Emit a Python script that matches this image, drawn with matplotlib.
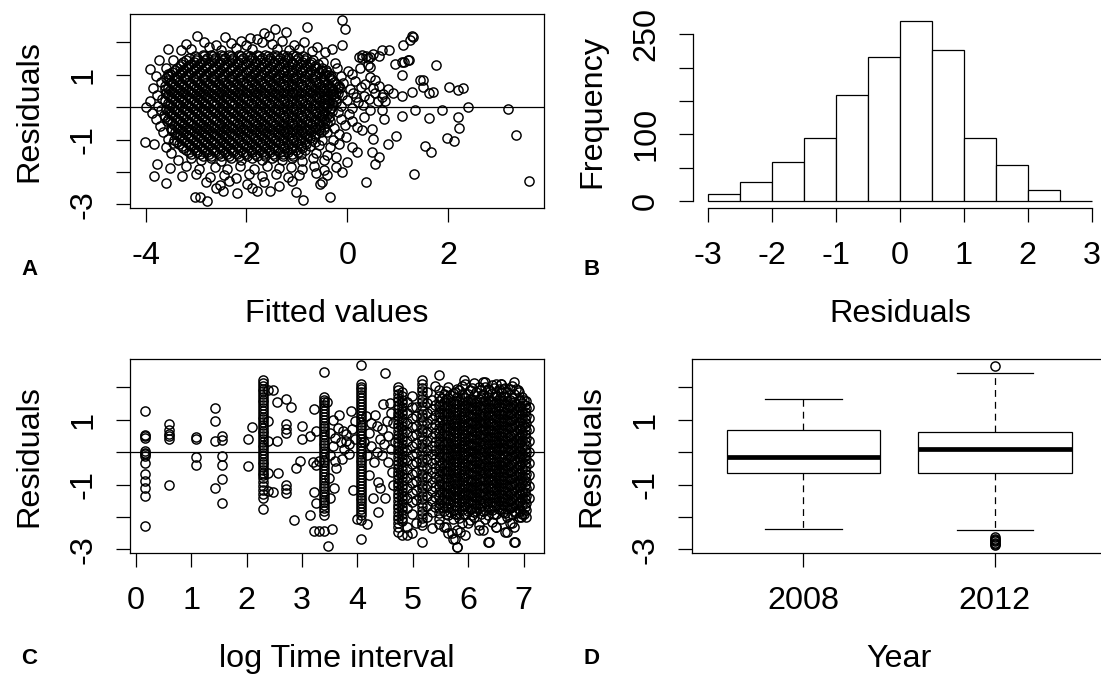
import numpy as np
import matplotlib.pyplot as plt

plt.rcParams['font.family'] = ['Liberation Sans', 'DejaVu Sans']
plt.rcParams['axes.unicode_minus'] = False

# ---------------- data ----------------
# A: residuals vs fitted values. dense core as rows (residual, [fitted ...])
a_core_rows = [
    (1.62, [-2.87, -2.71, -2.5, -2.35, -2.15, -1.99, -1.79, -1.63, -1.43, -1.27, -1.07]),
    (1.56, [-3.02, -2.84, -2.66, -2.47, -2.3, -2.11, -1.93, -1.75, -1.57, -1.39, -1.2, -1.02, -0.88]),
    (1.50, [-3.14, -2.98, -2.78, -2.62, -2.42, -2.26, -2.06, -1.9, -1.7, -1.54, -1.34, -1.18, -0.98, -0.82]),
    (1.44, [-3.2, -3.01, -2.83, -2.65, -2.46, -2.29, -2.1, -1.92, -1.74, -1.56, -1.38, -1.19, -1.01, -0.83, -0.68]),
    (1.38, [-3.25, -3.05, -2.89, -2.69, -2.53, -2.33, -2.17, -1.97, -1.81, -1.61, -1.45, -1.25, -1.09, -0.89, -0.73]),
    (1.32, [-3.29, -3.1, -2.92, -2.74, -2.55, -2.38, -2.19, -2.01, -1.83, -1.65, -1.47, -1.28, -1.1, -0.92, -0.74, -0.58]),
    (1.26, [-3.32, -3.16, -2.96, -2.8, -2.6, -2.44, -2.24, -2.08, -1.88, -1.72, -1.52, -1.36, -1.16, -1.0, -0.8, -0.64]),
    (1.20, [-3.38, -3.2, -3.01, -2.83, -2.65, -2.46, -2.29, -2.1, -1.92, -1.74, -1.56, -1.38, -1.19, -1.01, -0.83, -0.65, -0.5]),
    (1.14, [-3.41, -3.25, -3.05, -2.89, -2.69, -2.53, -2.33, -2.17, -1.97, -1.81, -1.61, -1.45, -1.25, -1.09, -0.89, -0.73, -0.53]),
    (1.08, [-3.47, -3.28, -3.1, -2.92, -2.74, -2.55, -2.38, -2.19, -2.01, -1.83, -1.65, -1.47, -1.28, -1.1, -0.92, -0.74, -0.56, -0.4]),
    (1.02, [-3.52, -3.32, -3.16, -2.96, -2.8, -2.6, -2.44, -2.24, -2.08, -1.88, -1.72, -1.52, -1.36, -1.16, -1.0, -0.8, -0.64, -0.44]),
    (0.96, [-3.55, -3.38, -3.2, -3.01, -2.83, -2.65, -2.46, -2.29, -2.1, -1.92, -1.74, -1.56, -1.38, -1.19, -1.01, -0.83, -0.65, -0.47, -0.32]),
    (0.90, [-3.59, -3.43, -3.23, -3.07, -2.87, -2.71, -2.51, -2.35, -2.15, -1.99, -1.79, -1.63, -1.43, -1.27, -1.07, -0.91, -0.71, -0.55, -0.35]),
    (0.84, [-3.56, -3.38, -3.2, -3.01, -2.83, -2.65, -2.46, -2.29, -2.1, -1.92, -1.74, -1.56, -1.38, -1.19, -1.01, -0.83, -0.65, -0.47, -0.3]),
    (0.78, [-3.5, -3.34, -3.14, -2.98, -2.78, -2.62, -2.42, -2.26, -2.06, -1.9, -1.7, -1.54, -1.34, -1.18, -0.98, -0.82, -0.62, -0.46, -0.26]),
    (0.72, [-3.47, -3.28, -3.1, -2.92, -2.74, -2.55, -2.38, -2.19, -2.01, -1.83, -1.65, -1.47, -1.28, -1.1, -0.92, -0.74, -0.56, -0.4, -0.22]),
    (0.66, [-3.61, -3.41, -3.25, -3.05, -2.89, -2.69, -2.53, -2.33, -2.17, -1.97, -1.81, -1.61, -1.45, -1.25, -1.09, -0.89, -0.73, -0.53, -0.37, -0.17]),
    (0.60, [-3.56, -3.38, -3.2, -3.01, -2.83, -2.65, -2.46, -2.29, -2.1, -1.92, -1.74, -1.56, -1.38, -1.19, -1.01, -0.83, -0.65, -0.47, -0.3, -0.14]),
    (0.54, [-3.52, -3.32, -3.16, -2.96, -2.8, -2.6, -2.44, -2.24, -2.08, -1.88, -1.72, -1.52, -1.36, -1.16, -1.0, -0.8, -0.64, -0.44, -0.28]),
    (0.48, [-3.47, -3.28, -3.1, -2.92, -2.74, -2.55, -2.38, -2.19, -2.01, -1.83, -1.65, -1.47, -1.28, -1.1, -0.92, -0.74, -0.56, -0.4, -0.22]),
    (0.42, [-3.59, -3.43, -3.23, -3.07, -2.87, -2.71, -2.51, -2.35, -2.15, -1.99, -1.79, -1.63, -1.43, -1.27, -1.07, -0.91, -0.71, -0.55, -0.35, -0.19]),
    (0.36, [-3.56, -3.38, -3.2, -3.01, -2.83, -2.65, -2.46, -2.29, -2.1, -1.92, -1.74, -1.56, -1.38, -1.19, -1.01, -0.83, -0.65, -0.47, -0.3]),
    (0.30, [-3.5, -3.34, -3.14, -2.98, -2.78, -2.62, -2.42, -2.26, -2.06, -1.9, -1.7, -1.54, -1.34, -1.18, -0.98, -0.82, -0.62, -0.46, -0.26]),
    (0.24, [-3.47, -3.28, -3.1, -2.92, -2.74, -2.55, -2.38, -2.19, -2.01, -1.83, -1.65, -1.47, -1.28, -1.1, -0.92, -0.74, -0.56, -0.4, -0.22]),
    (0.18, [-3.61, -3.41, -3.25, -3.05, -2.89, -2.69, -2.53, -2.33, -2.17, -1.97, -1.81, -1.61, -1.45, -1.25, -1.09, -0.89, -0.73, -0.53, -0.37]),
    (0.12, [-3.56, -3.38, -3.2, -3.01, -2.83, -2.65, -2.46, -2.29, -2.1, -1.92, -1.74, -1.56, -1.38, -1.19, -1.01, -0.83, -0.65, -0.47, -0.3]),
    (0.06, [-3.52, -3.32, -3.16, -2.96, -2.8, -2.6, -2.44, -2.24, -2.08, -1.88, -1.72, -1.52, -1.36, -1.16, -1.0, -0.8, -0.64, -0.44, -0.28]),
    (0.00, [-3.47, -3.28, -3.1, -2.92, -2.74, -2.55, -2.38, -2.19, -2.01, -1.83, -1.65, -1.47, -1.28, -1.1, -0.92, -0.74, -0.56, -0.4]),
    (-0.06, [-3.59, -3.43, -3.23, -3.07, -2.87, -2.71, -2.51, -2.35, -2.15, -1.99, -1.79, -1.63, -1.43, -1.27, -1.07, -0.91, -0.71, -0.55, -0.35]),
    (-0.12, [-3.56, -3.38, -3.2, -3.01, -2.83, -2.65, -2.46, -2.29, -2.1, -1.92, -1.74, -1.56, -1.38, -1.19, -1.01, -0.83, -0.65, -0.47, -0.3]),
    (-0.18, [-3.5, -3.34, -3.14, -2.98, -2.78, -2.62, -2.42, -2.26, -2.06, -1.9, -1.7, -1.54, -1.34, -1.18, -0.98, -0.82, -0.62, -0.46]),
    (-0.24, [-3.47, -3.28, -3.1, -2.92, -2.74, -2.55, -2.38, -2.19, -2.01, -1.83, -1.65, -1.47, -1.28, -1.1, -0.92, -0.74, -0.56, -0.4]),
    (-0.30, [-3.61, -3.41, -3.25, -3.05, -2.89, -2.69, -2.53, -2.33, -2.17, -1.97, -1.81, -1.61, -1.45, -1.25, -1.09, -0.89, -0.73, -0.53, -0.37]),
    (-0.36, [-3.56, -3.38, -3.2, -3.01, -2.83, -2.65, -2.46, -2.29, -2.1, -1.92, -1.74, -1.56, -1.38, -1.19, -1.01, -0.83, -0.65, -0.47]),
    (-0.42, [-3.52, -3.32, -3.16, -2.96, -2.8, -2.6, -2.44, -2.24, -2.08, -1.88, -1.72, -1.52, -1.36, -1.16, -1.0, -0.8, -0.64, -0.44]),
    (-0.48, [-3.47, -3.28, -3.1, -2.92, -2.74, -2.55, -2.38, -2.19, -2.01, -1.83, -1.65, -1.47, -1.28, -1.1, -0.92, -0.74, -0.56, -0.4]),
    (-0.54, [-3.43, -3.23, -3.07, -2.87, -2.71, -2.51, -2.35, -2.15, -1.99, -1.79, -1.63, -1.43, -1.27, -1.07, -0.91, -0.71, -0.55]),
    (-0.60, [-3.38, -3.2, -3.01, -2.83, -2.65, -2.46, -2.29, -2.1, -1.92, -1.74, -1.56, -1.38, -1.19, -1.01, -0.83, -0.65, -0.47]),
    (-0.66, [-3.5, -3.34, -3.14, -2.98, -2.78, -2.62, -2.42, -2.26, -2.06, -1.9, -1.7, -1.54, -1.34, -1.18, -0.98, -0.82, -0.62, -0.46]),
    (-0.72, [-3.47, -3.28, -3.1, -2.92, -2.74, -2.55, -2.38, -2.19, -2.01, -1.83, -1.65, -1.47, -1.28, -1.1, -0.92, -0.74, -0.56]),
    (-0.78, [-3.41, -3.25, -3.05, -2.89, -2.69, -2.53, -2.33, -2.17, -1.97, -1.81, -1.61, -1.45, -1.25, -1.09, -0.89, -0.73, -0.53]),
    (-0.84, [-3.38, -3.2, -3.01, -2.83, -2.65, -2.46, -2.29, -2.1, -1.92, -1.74, -1.56, -1.38, -1.19, -1.01, -0.83, -0.65]),
    (-0.90, [-3.32, -3.16, -2.96, -2.8, -2.6, -2.44, -2.24, -2.08, -1.88, -1.72, -1.52, -1.36, -1.16, -1.0, -0.8, -0.64]),
    (-0.96, [-3.28, -3.1, -2.92, -2.74, -2.55, -2.38, -2.19, -2.01, -1.83, -1.65, -1.47, -1.28, -1.1, -0.92, -0.74]),
    (-1.02, [-3.43, -3.23, -3.07, -2.87, -2.71, -2.51, -2.35, -2.15, -1.99, -1.79, -1.63, -1.43, -1.27, -1.07, -0.91, -0.71]),
    (-1.08, [-3.38, -3.2, -3.01, -2.83, -2.65, -2.46, -2.29, -2.1, -1.92, -1.74, -1.56, -1.38, -1.19, -1.01, -0.83, -0.65]),
    (-1.14, [-3.34, -3.14, -2.98, -2.78, -2.62, -2.42, -2.26, -2.06, -1.9, -1.7, -1.54, -1.34, -1.18, -0.98, -0.82]),
    (-1.20, [-3.28, -3.1, -2.92, -2.74, -2.55, -2.38, -2.19, -2.01, -1.83, -1.65, -1.47, -1.28, -1.1, -0.92, -0.74]),
    (-1.26, [-3.25, -3.05, -2.89, -2.69, -2.53, -2.33, -2.17, -1.97, -1.81, -1.61, -1.45, -1.25, -1.09, -0.89]),
    (-1.32, [-3.2, -3.01, -2.83, -2.65, -2.46, -2.29, -2.1, -1.92, -1.74, -1.56, -1.38, -1.19, -1.01, -0.83]),
    (-1.38, [-3.14, -2.98, -2.78, -2.62, -2.42, -2.26, -2.06, -1.9, -1.7, -1.54, -1.34, -1.18, -0.98]),
    (-1.44, [-3.1, -2.92, -2.74, -2.55, -2.38, -2.19, -2.01, -1.83, -1.65, -1.47, -1.28, -1.1, -0.92]),
    (-1.50, [-2.87, -2.71, -2.51, -2.35, -2.15, -1.99, -1.79, -1.63, -1.43, -1.27, -1.07]),
]

# A: scattered points round the core (fitted, residual)
a_edge = [
    (-2.99, 2.19), (-2.43, 2.16), (-1.94, 2.14), (-1.65, 2.27), (-1.43, 2.42), (-1.22, 2.32),
    (-0.80, 2.47), (-0.10, 2.68), (-0.05, 2.42), (-1.55, 2.2), (-2.1, 2.05), (-1.8, 2.1),
    (-3.56, 1.80), (-3.2, 1.95), (-2.85, 2.0), (-2.6, 1.9), (-2.3, 1.98), (-2.0, 1.92),
    (-1.7, 2.0), (-1.5, 1.95), (-1.3, 2.05), (-1.05, 1.9), (-0.85, 2.0), (-0.6, 1.85),
    (-0.10, 1.91), (-2.75, 1.85), (-1.9, 1.8), (-3.3, 1.75), (-3.1, 1.8), (-2.5, 1.75),
    (-2.2, 1.82), (-1.4, 1.78), (-1.15, 1.75), (-0.95, 1.8), (-0.7, 1.72), (-0.45, 1.7),
    (-0.3, 1.78),
    (-3.74, 1.44), (-3.91, 1.19), (-3.6, 1.2), (-3.8, 0.95), (-3.7, 0.78), (-3.85, 0.6),
    (-3.78, 0.38), (-3.92, 0.18), (-3.68, 0.24), (-3.99, 0.0), (-3.75, 0.04), (-3.88, -0.18),
    (-3.64, -0.24), (-3.8, -0.38), (-3.58, -0.44), (-3.72, -0.58), (-3.66, -0.78), (-4.02, -1.08),
    (-3.84, -1.13), (-3.56, -0.98), (-3.6, -1.22), (-3.5, -1.42), (-3.77, -1.75), (-3.35, -1.62),
    (-3.45, 1.45), (-3.55, 1.02), (-3.62, 0.56), (-3.7, -0.1), (-3.5, -0.64), (-3.45, -1.1),
    (-0.48, 1.4), (-0.25, 1.35), (0.23, 1.55), (0.3, 1.52), (0.37, 1.58), (-0.42, 1.15),
    (-0.2, 1.2), (0.02, 1.1), (-0.36, 1.0), (-0.12, 0.95), (0.1, 1.02), (0.44, 0.93),
    (-0.08, 0.75), (0.15, 0.8), (0.35, 0.72), (-0.18, 0.63), (0.05, 0.55), (0.28, 0.62),
    (0.5, 0.58), (0.62, 0.65), (-0.1, 0.38), (0.12, 0.42), (0.34, 0.35), (0.55, 0.44),
    (0.7, 0.4), (-0.22, 0.16), (0.0, 0.22), (0.22, 0.15), (0.42, 0.24), (0.6, 0.2),
    (-0.33, -0.04), (-0.12, 0.03), (0.1, -0.02), (0.32, 0.05), (0.69, -0.1), (-0.18, -0.16),
    (0.04, -0.22), (0.34, -0.31), (1.08, -0.26), (-0.34, -0.44), (-0.12, -0.36), (0.1, -0.42),
    (0.73, -0.36), (-0.26, -0.64), (-0.04, -0.56), (0.2, -0.62), (0.48, -0.67), (-0.4, -0.78),
    (-0.16, -0.84), (0.3, -0.72), (0.97, -0.88), (-0.5, -1.02), (-0.16, -1.13), (-0.02, -0.93),
    (0.51, -0.98), (-0.56, -1.18), (-0.34, -1.24), (0.09, -1.24), (0.8, -1.13), (-0.62, -1.42),
    (-0.4, -1.48), (0.2, -1.39), (0.48, -1.39), (-0.46, -1.64), (0.62, -1.55), (-0.68, -1.58),
    (-0.3, 0.5), (-0.45, 0.25), (-0.5, -0.25), (0.45, -0.1), (0.18, 0.3), (-0.28, -1.0),
    (0.25, 1.2), (0.4, 1.3),
    (-3.1, -1.56), (-2.9, -1.64), (-2.7, -1.57), (-2.5, -1.65), (-2.3, -1.56), (-2.1, -1.62),
    (-1.9, -1.57), (-1.7, -1.64), (-1.5, -1.56), (-1.3, -1.63), (-1.1, -1.57), (-0.9, -1.65),
    (-3.52, -1.88), (-3.2, -1.82), (-2.95, -1.9), (-2.62, -1.84), (-2.38, -1.92), (-2.12, -1.83),
    (-1.85, -1.9), (-1.6, -1.82), (-1.36, -1.88), (-1.12, -1.84), (-0.9, -1.92), (-0.66, -1.82),
    (-0.46, -1.95), (-0.23, -1.86), (0.55, -1.75), (-3.83, -2.11), (-3.28, -2.11), (-3.0, -2.05),
    (-2.72, -2.15), (-2.45, -2.08), (-2.2, -2.18), (-1.95, -2.06), (-1.7, -2.12), (-1.42, -2.05),
    (-1.18, -2.15), (-0.95, -2.08), (-0.62, -2.02), (-0.4, -2.1), (-3.60, -2.35), (-2.8, -2.3),
    (-2.52, -2.4), (-2.35, -2.28), (-1.98, -2.38), (-1.65, -2.3), (-1.35, -2.42), (-1.1, -2.28),
    (-0.51, -2.32), (-0.55, -2.38), (0.37, -2.32), (-3.03, -2.78), (-2.92, -2.78), (-2.78, -2.89),
    (-2.46, -2.58), (-2.18, -2.66), (-1.79, -2.58), (-1.54, -2.58), (-1.01, -2.63), (-0.88, -2.87),
    (-0.34, -2.76), (-2.6, -2.5), (-1.9, -2.48), (-0.23, -1.55), (0.0, -1.7), (-0.1, -2.0),
    (1.33, -2.06), (3.60, -2.27), (3.35, -0.86), (3.18, -0.07), (2.39, 0.0), (2.29, 0.58),
    (2.2, 0.53), (2.02, 0.61), (2.2, -0.31), (2.21, -0.65), (2.12, -1.06), (1.98, -0.96),
    (1.76, 1.30), (1.87, -0.09), (1.62, -0.34), (1.65, -1.39), (1.55, -1.19), (1.34, -0.09),
    (1.51, 0.84), (1.5, 0.62), (1.69, 0.48), (1.62, 0.44), (1.28, 0.48), (1.21, 1.46),
    (1.28, 2.2), (1.25, 2.08), (1.3, 2.15), (1.11, 1.92), (1.08, 1.4), (1.08, 0.99),
    (1.08, 0.33), (1.45, 0.84), (0.51, 1.65), (0.69, 1.75), (0.82, 1.77), (0.44, 1.24),
    (0.94, 1.34), (1.12, 1.39), (1.22, 1.44), (0.69, 0.3), (0.8, 0.55), (0.9, 0.45),
    (0.55, 0.85), (0.75, 0.2), (0.45, 1.55), (0.62, 1.58), (0.3, 1.6), (0.41, 1.5),
]

# B: histogram of residuals
hist_edges = [-3.0, -2.5, -2.0, -1.5, -1.0, -0.5, 0.0, 0.5, 1.0, 1.5, 2.0, 2.5, 3.0]
hist_counts = [10, 28, 59, 94, 159, 216, 270, 227, 94, 54, 16, 0]

# C: residuals vs log time interval, columns (log interval, [residuals ...])
c_columns = [
    (0.17, [1.26, 0.54, 0.49, 0.44, 0.03, -0.02, -0.07, -0.12, -0.33, -0.69, -0.89, -1.10, -1.35, -2.28]),
    (0.60, [0.87, 0.67, 0.56, 0.49, 0.39, -1.02]),
    (1.09, [0.46, 0.40, -0.15, -0.40]),
    (1.42, [1.36, 0.97, 0.34, -1.10]),
    (1.56, [0.49, 0.36, -0.12, -0.40, -0.84, -1.56]),
    (2.30, [2.22, 2.13, 2.04, 1.96, 1.87, 1.79, 1.70, 1.61, 1.53, 1.44, 1.35, 1.27, 1.18, 1.09,
            1.01, 0.92, 0.84, 0.75, 0.66, 0.58, 0.49, 0.41, 0.32, 0.23, 0.15, 0.06, -0.03, -0.11,
            -0.20, -0.29, -0.37, -0.46, -0.55, -0.63, -0.72, -0.81, -0.92, -1.04, -1.16, -1.29,
            -1.42, -1.76]),
    (3.39, [2.46, 1.70, 1.61, 1.53, 1.44, 1.35, 1.26, 1.17, 1.09, 1.00, 0.91, 0.82, 0.73, 0.65,
            0.56, 0.47, 0.38, 0.29, 0.21, 0.12, 0.03, -0.06, -0.15, -0.23, -0.32, -0.41, -0.50,
            -0.59, -0.67, -0.76, -0.85, -0.94, -1.03, -1.11, -1.20, -1.29, -1.38, -1.47, -1.55,
            -1.64, -1.73, -1.82, -1.95, -2.42]),
    (4.06, [2.69, 2.11, 2.02, 1.93, 1.84, 1.75, 1.66, 1.57, 1.48, 1.39, 1.30, 1.21, 1.12, 1.03,
            0.94, 0.85, 0.76, 0.67, 0.58, 0.49, 0.40, 0.31, 0.22, 0.13, 0.04, -0.05, -0.14, -0.23,
            -0.32, -0.41, -0.50, -0.59, -0.68, -0.77, -0.86, -0.95, -1.04, -1.13, -1.22, -1.31,
            -1.40, -1.49, -1.58, -1.67, -1.76, -1.85, -1.94, -2.10, -2.68]),
    (4.74, [2.01, 1.9, 1.78, 1.67, 1.56, 1.44, 1.33, 1.22, 1.1, 0.99, 0.88, 0.76, 0.65, 0.54,
            0.42, 0.31, 0.2, 0.08, -0.03, -0.14, -0.26, -0.37, -0.48, -0.6, -0.71, -0.82, -0.94,
            -1.05, -1.16, -1.28, -1.39, -1.5, -1.62, -1.73, -1.84, -1.96, -2.07, -2.18, -2.3, -2.47]),
    (4.81, [1.84, 1.72, 1.61, 1.5, 1.38, 1.27, 1.16, 1.04, 0.93, 0.82, 0.7, 0.59, 0.48, 0.36,
            0.25, 0.14, 0.02, -0.09, -0.2, -0.32, -0.43, -0.54, -0.66, -0.77, -0.88, -1.0, -1.11,
            -1.22, -1.34, -1.45, -1.56, -1.68, -1.79, -1.9, -2.02, -2.13, -2.57]),
    (4.90, [1.55, 1.2, 0.9, 0.62, 0.35, 0.05, -0.25, -0.52, -0.8, -1.1, -1.4, -1.72, -2.3]),
    (4.98, [1.72, 1.38, 1.05, 0.78, 0.5, 0.2, -0.1, -0.38, -0.66, -0.95, -1.25, -1.55, -1.9, -2.5]),
    (5.06, [1.4, 1.1, 0.82, 0.55, 0.27, -0.02, -0.3, -0.6, -0.88, -1.18, -1.48, -2.2]),
    (5.16, [2.22, 2.1, 1.99, 1.87, 1.76, 1.64, 1.53, 1.41, 1.3, 1.18, 1.07, 0.95, 0.84, 0.72,
            0.61, 0.49, 0.38, 0.26, 0.15, 0.03, -0.08, -0.2, -0.31, -0.43, -0.54, -0.66, -0.77,
            -0.89, -1.0, -1.12, -1.23, -1.35, -1.46, -1.58, -1.69, -1.81, -1.92, -2.04, -2.15,
            -2.26, -2.78]),
    (5.26, [1.85, 1.5, 1.2, 0.9, 0.63, 0.35, 0.08, -0.2, -0.48, -0.78, -1.05, -1.35, -1.65, -2.0]),
    (5.34, [1.62, 1.32, 1.03, 0.76, 0.48, 0.2, -0.07, -0.35, -0.62, -0.92, -1.2, -1.5, -1.85, -2.35]),
    (5.40, [2.05, 1.45, 1.15, 0.88, 0.6, 0.32, 0.05, -0.22, -0.5, -0.78, -1.07, -1.38, -1.7]),
    (5.47, [2.37, 1.92, 1.74, 1.58, 1.41, 1.25, 1.08, 0.92, 0.75, 0.59, 0.42, 0.26, 0.09, -0.07,
            -0.24, -0.4, -0.57, -0.73, -0.9, -1.06, -1.23, -1.39, -1.56, -1.72, -1.89, -2.05, -2.22]),
    (5.52, [1.66, 1.44, 1.22, 0.99, 0.77, 0.55, 0.32, 0.1, -0.12, -0.35, -0.57, -0.79, -1.02, -1.24, -1.46, -1.69]),
    (5.56, [1.78, 1.55, 1.33, 1.1, 0.88, 0.66, 0.43, 0.21, -0.02, -0.24, -0.46, -0.69, -0.91, -1.13, -1.36, -1.58, -1.8, -2.3]),
    (5.60, [1.88, 1.65, 1.43, 1.2, 0.98, 0.76, 0.53, 0.31, 0.09, -0.14, -0.36, -0.58, -0.81, -1.03, -1.25, -1.48, -1.7, -1.92]),
    (5.64, [2.0, 1.66, 1.44, 1.21, 0.99, 0.77, 0.54, 0.32, 0.1, -0.13, -0.35, -0.58, -0.8, -1.02, -1.25, -1.47, -1.69, -1.95, -2.5]),
    (5.68, [1.77, 1.54, 1.32, 1.1, 0.87, 0.65, 0.43, 0.2, -0.02, -0.24, -0.47, -0.69, -0.91, -1.14, -1.36, -1.58, -1.84]),
    (5.72, [1.82, 1.58, 1.36, 1.14, 0.91, 0.69, 0.47, 0.24, 0.02, -0.2, -0.43, -0.65, -0.87, -1.1, -1.32, -1.54, -1.77, -2.05, -2.68]),
    (5.76, [1.85, 1.47, 1.25, 1.02, 0.8, 0.58, 0.35, 0.13, -0.09, -0.32, -0.54, -0.76, -0.99, -1.21, -1.43, -1.66, -1.9]),
    (5.80, [1.95, 1.69, 1.47, 1.25, 1.02, 0.8, 0.58, 0.35, 0.13, -0.09, -0.32, -0.54, -0.76, -0.99, -1.21, -1.43, -1.66, -1.9, -2.4, -2.94]),
    (5.84, [1.91, 1.58, 1.36, 1.13, 0.91, 0.69, 0.46, 0.24, 0.02, -0.21, -0.43, -0.65, -0.88, -1.1, -1.32, -1.55, -1.77, -2.02]),
    (5.88, [2.05, 1.8, 1.57, 1.35, 1.12, 0.9, 0.68, 0.46, 0.23, 0.01, -0.21, -0.44, -0.66, -0.88, -1.11, -1.33, -1.55, -1.78, -2.2]),
    (5.92, [2.22, 1.69, 1.46, 1.24, 1.01, 0.79, 0.57, 0.34, 0.12, -0.1, -0.33, -0.55, -0.77, -1.0, -1.22, -1.44, -1.67, -1.9]),
    (5.95, [2.1, 1.68, 1.46, 1.24, 1.01, 0.79, 0.57, 0.34, 0.12, -0.1, -0.33, -0.55, -0.77, -1.0, -1.22, -1.44, -1.67, -1.92, -2.55]),
    (5.99, [1.8, 1.57, 1.35, 1.12, 0.9, 0.68, 0.45, 0.23, 0.01, -0.22, -0.44, -0.66, -0.89, -1.11, -1.33, -1.56, -1.8]),
    (6.03, [1.9, 1.6, 1.38, 1.15, 0.93, 0.71, 0.48, 0.26, 0.04, -0.19, -0.41, -0.63, -0.86, -1.08, -1.3, -1.53, -1.75, -2.1]),
    (6.07, [1.98, 1.64, 1.41, 1.19, 0.96, 0.74, 0.52, 0.29, 0.07, -0.15, -0.38, -0.6, -0.82, -1.05, -1.27, -1.49, -1.72, -1.95]),
    (6.11, [2.14, 1.75, 1.52, 1.3, 1.07, 0.85, 0.63, 0.4, 0.18, -0.04, -0.27, -0.49, -0.71, -0.94, -1.16, -1.38, -1.61, -1.85, -2.0]),
    (6.15, [1.86, 1.53, 1.31, 1.08, 0.86, 0.64, 0.41, 0.19, -0.03, -0.26, -0.48, -0.7, -0.93, -1.15, -1.37, -1.6, -1.82]),
    (6.19, [2.02, 1.64, 1.42, 1.19, 0.97, 0.75, 0.52, 0.3, 0.08, -0.15, -0.37, -0.59, -0.82, -1.04, -1.26, -1.49, -1.71, -2.25]),
    (6.23, [1.92, 1.69, 1.46, 1.24, 1.01, 0.79, 0.57, 0.34, 0.12, -0.1, -0.33, -0.55, -0.77, -1.0, -1.22, -1.44, -1.67, -1.9]),
    (6.27, [2.15, 1.8, 1.56, 1.34, 1.11, 0.89, 0.67, 0.44, 0.22, 0.0, -0.23, -0.45, -0.67, -0.9, -1.12, -1.34, -1.57, -1.8, -2.4]),
    (6.31, [2.0, 1.58, 1.36, 1.14, 0.91, 0.69, 0.47, 0.24, 0.02, -0.2, -0.43, -0.65, -0.87, -1.1, -1.32, -1.54, -1.77, -2.05]),
    (6.35, [1.96, 1.7, 1.47, 1.25, 1.03, 0.8, 0.58, 0.36, 0.13, -0.09, -0.31, -0.54, -0.76, -0.98, -1.21, -1.43, -1.65, -1.95, -2.78]),
    (6.39, [1.88, 1.59, 1.36, 1.14, 0.92, 0.69, 0.47, 0.25, 0.02, -0.2, -0.42, -0.65, -0.87, -1.09, -1.32, -1.54, -1.76]),
    (6.43, [2.08, 1.82, 1.58, 1.36, 1.14, 0.91, 0.69, 0.47, 0.24, 0.02, -0.2, -0.43, -0.65, -0.87, -1.1, -1.32, -1.54, -1.78, -2.15]),
    (6.47, [1.97, 1.69, 1.47, 1.25, 1.02, 0.8, 0.58, 0.35, 0.13, -0.09, -0.32, -0.54, -0.76, -0.99, -1.21, -1.43, -1.66, -1.92]),
    (6.51, [2.11, 1.72, 1.5, 1.27, 1.05, 0.83, 0.6, 0.38, 0.16, -0.07, -0.29, -0.51, -0.74, -0.96, -1.18, -1.41, -1.63, -1.9, -2.3]),
    (6.55, [1.93, 1.61, 1.39, 1.16, 0.94, 0.72, 0.49, 0.27, 0.05, -0.18, -0.4, -0.62, -0.85, -1.07, -1.29, -1.52, -1.76]),
    (6.59, [2.1, 1.84, 1.61, 1.39, 1.16, 0.94, 0.72, 0.49, 0.27, 0.05, -0.18, -0.4, -0.62, -0.85, -1.07, -1.29, -1.52, -1.74, -2.05]),
    (6.63, [1.95, 1.73, 1.5, 1.28, 1.05, 0.83, 0.61, 0.38, 0.16, -0.06, -0.29, -0.51, -0.73, -0.96, -1.18, -1.4, -1.63, -1.86]),
    (6.67, [1.98, 1.7, 1.48, 1.25, 1.03, 0.81, 0.58, 0.36, 0.14, -0.09, -0.31, -0.53, -0.76, -0.98, -1.2, -1.43, -1.65, -1.88, -2.45]),
    (6.71, [1.84, 1.59, 1.37, 1.14, 0.92, 0.7, 0.47, 0.25, 0.03, -0.2, -0.42, -0.64, -0.87, -1.09, -1.31, -1.54, -1.76, -2.0]),
    (6.75, [1.95, 1.62, 1.4, 1.18, 0.95, 0.73, 0.51, 0.28, 0.06, -0.16, -0.39, -0.61, -0.83, -1.06, -1.28, -1.5, -1.73, -2.2]),
    (6.79, [2.05, 1.67, 1.44, 1.22, 0.99, 0.77, 0.55, 0.32, 0.1, -0.12, -0.35, -0.57, -0.79, -1.02, -1.24, -1.46, -1.69, -1.92]),
    (6.83, [2.17, 1.78, 1.55, 1.33, 1.1, 0.88, 0.66, 0.43, 0.21, -0.01, -0.24, -0.46, -0.68, -0.91, -1.13, -1.35, -1.58, -1.8, -2.3, -2.78]),
    (6.87, [1.96, 1.49, 1.27, 1.04, 0.82, 0.6, 0.37, 0.15, -0.07, -0.3, -0.52, -0.74, -0.97, -1.19, -1.41, -1.64, -1.88]),
    (6.91, [1.85, 1.6, 1.38, 1.15, 0.93, 0.71, 0.48, 0.26, 0.04, -0.19, -0.41, -0.63, -0.86, -1.08, -1.3, -1.53, -1.75, -2.0]),
    (6.94, [1.62, 1.39, 1.16, 0.94, 0.71, 0.49, 0.27, 0.04, -0.18, -0.4, -0.63, -0.85, -1.07, -1.3, -1.52, -1.8]),
    (6.98, [1.7, 1.5, 1.27, 1.05, 0.82, 0.6, 0.38, 0.15, -0.07, -0.29, -0.52, -0.74, -0.96, -1.19, -1.41, -1.63, -1.9]),
    (7.02, [1.46, 1.23, 1.01, 0.78, 0.56, 0.34, 0.11, -0.11, -0.33, -0.56, -0.78, -1.0, -1.23, -1.45, -1.7]),
    (7.05, [1.58, 1.35, 1.12, 0.9, 0.67, 0.45, 0.23, 0.0, -0.22, -0.44, -0.67, -0.89, -1.11, -1.34, -1.56, -1.78, -2.0]),
    (7.09, [1.4, 1.05, 0.7, 0.35, 0.0, -0.35, -0.7, -1.05, -1.4]),
]

# C: loose points between the columns (log interval, residual)
c_loose = [
    (2.38, 1.90), (2.38, 0.95), (2.38, 0.34), (2.38, -0.64), (2.38, -1.2), (2.1, 0.77),
    (2.02, 0.39), (2.02, -0.43), (2.47, 1.91), (2.54, 1.54), (2.70, 1.65), (2.79, 1.39),
    (2.70, 0.86), (2.70, 0.72), (2.70, 0.6), (2.54, 0.34), (2.56, -0.65), (2.70, -1.01),
    (2.70, -1.13), (2.70, -1.27), (2.47, -1.22), (2.86, -2.10), (2.99, 0.81), (2.99, 0.4),
    (2.96, -0.28), (2.89, -0.49), (3.15, -1.95), (3.25, -1.58), (3.21, -2.42), (3.21, -1.22),
    (3.25, -0.39), (3.25, 0.66), (3.21, 1.33), (3.3, -2.42), (3.47, -2.89), (3.54, -2.36),
    (3.57, -1.11), (3.60, -0.28), (3.66, 1.13), (3.73, 0.66), (3.79, 0.34), (3.92, -1.17),
    (3.89, 1.28), (3.99, -2.05), (4.18, -2.21), (3.2, -0.3), (3.3, -0.28), (3.15, 0.5),
    (3.5, 0.6), (3.55, 0.2), (3.6, 0.45), (3.65, 0.75), (3.7, 0.3), (3.75, 0.1),
    (3.8, 0.55), (3.85, 0.25), (3.9, 0.7), (3.95, 0.4), (3.5, -0.1), (3.62, -0.5),
    (3.72, -0.2), (3.85, -0.05), (3.95, 0.95), (3.55, 1.0), (3.45, 1.55), (3.5, -1.4),
    (3.48, -0.8), (4.15, 1.1), (4.2, 0.6), (4.25, 0.2), (4.3, -0.3), (4.31, 1.13),
    (4.35, 0.8), (4.4, 0.4), (4.45, -0.1), (4.5, 2.43), (4.47, 1.49), (4.53, 0.97),
    (4.37, -0.91), (4.28, -1.43), (4.37, -1.84), (4.50, -1.43), (4.55, 0.5), (4.6, 0.1),
    (4.62, -0.6), (4.65, 0.9), (4.58, 1.5), (4.2, -0.7), (4.4, -1.1), (4.65, -1.0),
    (4.12, 0.3), (4.25, 0.9), (4.45, 0.7), (4.55, -0.3), (4.35, 0.0), (4.6, 1.2),
    (4.18, -0.1), (4.68, 0.3), (4.48, 0.25), (4.89, -2.57), (5.6, -2.3), (5.7, -2.5),
    (6.0, -2.2), (6.2, -2.4), (6.5, -2.3), (6.8, -2.2), (6.7, -2.45), (6.95, -2.0),
    (5.85, -2.45), (5.79, -2.94), (5.76, -2.68), (6.37, -2.78), (6.85, -2.78), (7.01, -1.90),
    (6.3, 2.15), (6.6, 2.1), (6.9, 1.9), (7.0, 1.6),
]

# D: boxplot summaries by year
years = ['2008', '2012']
box_med = [-0.14, 0.09]
box_q1 = [-0.64, -0.64]
box_q3 = [0.67, 0.63]
box_lo = [-2.36, -2.41]
box_hi = [1.63, 2.44]
box_out = [[], [2.65, -2.63, -2.67, -2.71, -2.75, -2.79, -2.83, -2.87]]

# ---------------- drawing ----------------
W, H = 1101, 678
FS = 23.3
fig = plt.figure(figsize=(W / 100, H / 100), dpi=100)


def panel(left, top, right, bottom):
    ax = fig.add_axes([left / W, 1 - bottom / H, (right - left) / W, (bottom - top) / H])
    for s in ax.spines.values():
        s.set_linewidth(0.9)
    ax.tick_params(direction='out', length=10, width=0.9, labelsize=FS)
    ax.tick_params(axis='x', pad=14)
    ax.tick_params(axis='y', pad=13)
    return ax


def resid_ticks(ax):
    ax.set_ylim(-3.11, 2.87)
    ax.set_yticks([-3, -2, -1, 0, 1, 2], ['-3', '', '-1', '', '1', ''], rotation=90, va='center')
    ax.set_ylabel('Residuals', fontsize=FS, labelpad=17)


circ = dict(ls='none', marker='o', mfc='none', mec='black', ms=6.6, mew=1.05)

# A
axA = panel(130, 14, 544, 208)
ax_x = [x for y, xs in a_core_rows for x in xs] + [p[0] for p in a_edge]
ax_y = [y for y, xs in a_core_rows for x in xs] + [p[1] for p in a_edge]
axA.plot(ax_x, ax_y, **circ)
axA.axhline(0, color='black', lw=0.9)
axA.set_xlim(-4.31, 3.90)
axA.set_xticks([-4, -2, 0, 2])
resid_ticks(axA)
axA.set_xlabel('Fitted values', fontsize=FS, labelpad=20)

# B
axB = panel(693, 14, 1107, 208)
axB.bar(hist_edges[:-1], hist_counts, width=np.diff(hist_edges), align='edge',
        facecolor='white', edgecolor='black', linewidth=0.9)
axB.set_xlim(-3.24, 3.24)
axB.set_ylim(-10.8, 280.8)
axB.spines['top'].set_visible(False)
axB.spines['right'].set_visible(False)
axB.spines['left'].set_bounds(0, 250)
axB.spines['bottom'].set_bounds(-3, 3)
axB.set_xticks([-3, -2, -1, 0, 1, 2, 3])
axB.set_yticks([0, 50, 100, 150, 200, 250], ['0', '', '100', '', '', '250'], rotation=90, va='center')
axB.set_xlabel('Residuals', fontsize=FS, labelpad=20)
axB.set_ylabel('Frequency', fontsize=FS, labelpad=17)

# C
axC = panel(130, 359, 544, 553)
cx = [x for x, ys in c_columns for y in ys] + [p[0] for p in c_loose]
cy = [y for x, ys in c_columns for y in ys] + [p[1] for p in c_loose]
axC.plot(cx, cy, **circ)
axC.axhline(0, color='black', lw=0.9)
axC.set_xlim(-0.11, 7.37)
axC.set_xticks(range(8))
resid_ticks(axC)
axC.set_xlabel('log Time interval', fontsize=FS, labelpad=20)

# D
axD = panel(692, 359, 1106, 553)
stats = [dict(med=box_med[i], q1=box_q1[i], q3=box_q3[i], whislo=box_lo[i],
              whishi=box_hi[i], fliers=box_out[i], label=years[i]) for i in range(2)]
axD.bxp(stats, positions=[1, 2], widths=0.8, capwidths=0.4, patch_artist=True,
        boxprops=dict(facecolor='white', edgecolor='black', linewidth=0.9),
        medianprops=dict(color='black', linewidth=3.4, solid_capstyle='butt'),
        whiskerprops=dict(color='black', linewidth=0.9, linestyle=(0, (5.5, 4))),
        capprops=dict(color='black', linewidth=0.9),
        flierprops=circ)
axD.set_xlim(0.42, 2.58)
axD.set_xticks([1, 2], years)
resid_ticks(axD)
axD.set_xlabel('Year', fontsize=FS, labelpad=20)

# panel letters
for lab, x, y in [('A', 29, 270), ('B', 592, 270), ('C', 29, 659), ('D', 592, 659)]:
    fig.text(x / W, 1 - y / H, lab, fontsize=16, fontweight='bold', ha='center', va='center')

fig.savefig('out.png', dpi=100)
